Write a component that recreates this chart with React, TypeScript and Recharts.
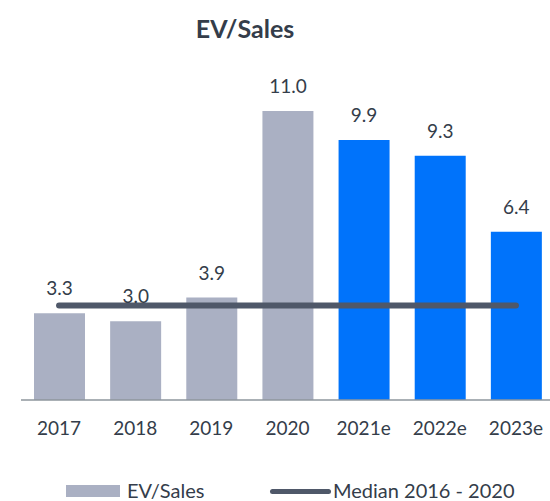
import { ComposedChart, Bar, Line, XAxis, YAxis, Cell, LabelList } from "recharts";

const years = ["2017", "2018", "2019", "2020", "2021e", "2022e", "2023e"];
const evSales = [3.3, 3.0, 3.9, 11.0, 9.9, 9.3, 6.4];
const median = [3.6, 3.6, 3.6, 3.6, 3.6, 3.6, 3.6];
const estimate = [false, false, false, false, true, true, true];

const data = years.map((year, i) => ({
    year,
    evSales: evSales[i],
    median: median[i],
    estimate: estimate[i],
}));

const font = "Lato, 'Noto Sans', sans-serif";
const textColor = "#343d4a";
const grey = "#aab0c3";
const blue = "#0073fb";
const lineColor = "#4f5869";

export default function App() {
    return (
        <div style={{ position: "absolute", left: 0, top: 0, width: 550, height: 501, fontFamily: font, overflow: "hidden" }}>
            <div
                style={{
                    position: "absolute",
                    top: 13,
                    left: 0,
                    width: 490,
                    textAlign: "center",
                    fontSize: 25,
                    lineHeight: "30px",
                    fontWeight: 700,
                    color: textColor,
                }}
            >
                EV/Sales
            </div>
            <ComposedChart
                width={554}
                height={501}
                data={data}
                margin={{ top: 111, right: 0, left: 21, bottom: 0 }}
            >
                <XAxis
                    dataKey="year"
                    axisLine={{ stroke: "#8e969c", strokeWidth: 1.5 }}
                    tickLine={false}
                    tick={{ fill: textColor, fontSize: 19, fontFamily: font }}
                    tickMargin={16}
                    height={101}
                />
                <YAxis hide domain={[0, 11]} />
                <Bar dataKey="evSales" barSize={51} isAnimationActive={false}>
                    {data.map((d) => (
                        <Cell key={d.year} fill={d.estimate ? blue : grey} />
                    ))}
                    <LabelList
                        dataKey="evSales"
                        position="top"
                        offset={18}
                        formatter={(v: any) => Number(v).toFixed(1)}
                        style={{ fill: textColor, fontSize: 19, fontFamily: font }}
                    />
                </Bar>
                <Line
                    dataKey="median"
                    stroke={lineColor}
                    strokeWidth={6}
                    strokeLinecap="round"
                    dot={false}
                    activeDot={false}
                    isAnimationActive={false}
                />
            </ComposedChart>
            <div style={{ position: "absolute", left: 66, top: 485, width: 54, height: 12, background: grey }} />
            <div style={{ position: "absolute", left: 127, top: 480, fontSize: 20, lineHeight: "20px", color: textColor, whiteSpace: "nowrap" }}>
                EV/Sales
            </div>
            <div style={{ position: "absolute", left: 270, top: 489, width: 61, height: 5, borderRadius: 3, background: lineColor }} />
            <div style={{ position: "absolute", left: 333, top: 480, fontSize: 20, lineHeight: "20px", color: textColor, whiteSpace: "nowrap" }}>
                Median 2016 - 2020
            </div>
        </div>
    );
}
